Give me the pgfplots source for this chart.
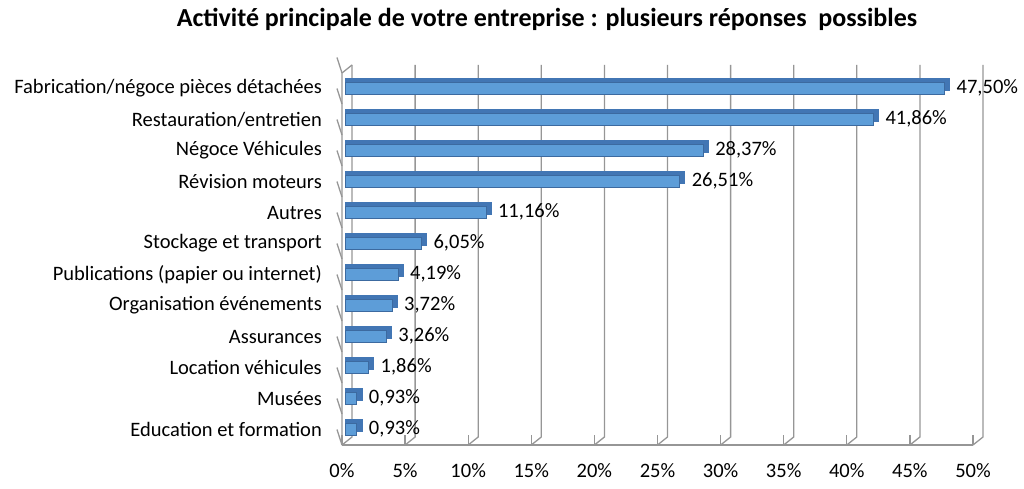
\documentclass[border=0pt]{standalone}
\usepackage{pgfplots}
\pgfplotsset{compat=1.18}
\usepackage{pgfplotstable}
\usepackage{fontspec}
\setmainfont{Carlito}

\definecolor{barfront}{RGB}{93,157,216}
\definecolor{bartop}{RGB}{66,118,180}
\definecolor{baredge}{RGB}{60,106,160}
\definecolor{gridgray}{RGB}{150,150,150}

% categories bottom (0) to top (11)
\pgfplotstableread{
pos value
0  0.93
1  0.93
2  1.86
3  3.26
4  3.72
5  4.19
6  6.05
7  11.16
8  26.51
9  28.37
10 41.86
11 47.50
}\activite

\begin{document}
\begin{tikzpicture}[x=1pt,y=1pt]
  \useasboundingbox (0,0) rectangle (1024,488);
  \node[font=\fontsize{26}{30}\selectfont\bfseries] at (547,469)
    {Activité principale de votre entreprise : plusieurs réponses\ \ possibles};
  \begin{axis}[
    at={(342pt,43pt)}, anchor=south west,
    scale only axis, width=631pt, height=372pt,
    xmin=0, xmax=50, ymin=-0.5, ymax=11.5,
    clip=false,
    axis line style={draw=none},
    major tick length=0pt,
    /pgf/number format/assume math mode=true,
    xtick={0,5,...,50},
    xticklabel={\pgfmathprintnumber{\tick}\%},
    ytick={0,...,11},
    yticklabels={Education et formation, Musées, Location véhicules, Assurances,
      Organisation événements, Publications (papier ou internet), Stockage et transport,
      Autres, Révision moteurs, Négoce Véhicules, Restauration/entretien,
      Fabrication/négoce pièces détachées},
    ticklabel style={font=\fontsize{20.5}{24}\selectfont, inner sep=0pt},
    xticklabel style={yshift=-18pt},
    yticklabel style={xshift=-20pt},
    every axis plot/.append style={xbar, bar width=12pt},
  ]
    % back wall grid
    \pgfplotsinvokeforeach{0,5,...,50}{
      \draw[gridgray, line width=1.3pt]
        (axis cs:#1,-0.5) -- ([shift={(10pt,8pt)}]axis cs:#1,-0.5)
        -- ([shift={(10pt,8pt)}]axis cs:#1,11.5);
      \draw[gridgray, line width=1.3pt] (axis cs:#1,-0.5) -- ++(0,-5pt);
    }
    \draw[gridgray, line width=1.3pt] (axis cs:0,-0.5) -- (axis cs:50,-0.5);
    \draw[gridgray, line width=1.3pt] (axis cs:0,-0.5) -- (axis cs:0,11.5)
      -- ([shift={(10pt,8pt)}]axis cs:0,11.5);
    \pgfplotsinvokeforeach{-0.5,0.5,...,11.5}{
      \draw[gridgray, line width=1.3pt] (axis cs:0,#1) -- ++(-5pt,0);
    }
    % depth of the bars
    \addplot[draw=bartop, line width=0.4pt, fill=bartop, xshift=3pt, yshift=4pt]
      table[x expr=\thisrow{value}+0.4, y=pos] {\activite};
    % front of the bars
    \addplot[draw=baredge, line width=0.5pt, fill=barfront, xshift=3pt,
      nodes near coords={\pgfmathprintnumber[fixed,fixed zerofill,precision=2,use comma,assume math mode=true]{\pgfplotspointmeta}\%},
      every node near coord/.append style={font=\fontsize{20.5}{24}\selectfont,
        text=black, inner sep=0pt, xshift=12pt, yshift=1pt}]
      table[x=value, y=pos] {\activite};
  \end{axis}
\end{tikzpicture}
\end{document}
